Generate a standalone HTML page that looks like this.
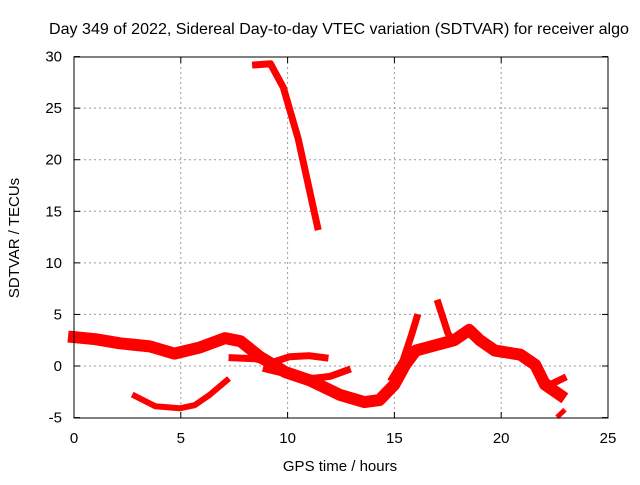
<!DOCTYPE html>
<html><head><meta charset="utf-8"><style>
body{margin:0;background:#fff;}
svg text{font-family:"Liberation Sans",sans-serif;font-size:15px;fill:#000;}
</style></head><body>
<svg id="c" width="640" height="480">
<text x="339" y="34" text-anchor="middle" textLength="580" lengthAdjust="spacingAndGlyphs" style="font-size:16px">Day 349 of 2022, Sidereal Day-to-day VTEC variation (SDTVAR) for receiver algo</text>
<text x="340" y="471" text-anchor="middle">GPS time / hours</text>
<text transform="translate(19,238) rotate(-90)" text-anchor="middle">SDTVAR / TECUs</text>
<g id="grid"></g><g id="marks"></g><g id="axes"></g>
</svg>
<script>
const xTicks=[0,5,10,15,20,25];
const yTicks=[-5,0,5,10,15,20,25,30];
const bandMainH=[0,1,2.15,3.55,4.7,5.9,7.07,7.8,8.7,9.9,11.05,12.45,13.6,14.3,15,15.5,16,16.9,17.8,18.5,19,19.7,20.9,21.6,22.05,22.75];
const bandMainV=[2.8,2.6,2.2,1.9,1.2,1.8,2.7,2.4,0.9,-0.6,-1.4,-2.8,-3.5,-3.3,-1.8,0.1,1.5,2.0,2.5,3.5,2.5,1.5,1.1,0.1,-1.8,-2.8];
const steepH=[8.5,9.2,9.8,10.5,11.4];
const steepV=[29.2,29.3,27,22,13.5];
const arcH=[2.85,3.8,4.95,5.65,6.35,7.15];
const arcV=[-2.9,-3.9,-4.1,-3.8,-2.8,-1.4];
const midH=[7.4,8.5,9.2,10.1,11.0,11.75];
const midV=[0.8,0.7,0.3,0.9,1.0,0.8];
const lowH=[9.0,10.0,11.2,12.0,12.8];
const lowV=[-0.3,-0.8,-1.2,-1.0,-0.4];
const spike1H=[14.9,15.4,15.8,16.05];
const spike1V=[-1.2,0.5,3.0,4.7];
const spike2H=[17.05,17.3,17.5,17.7];
const spike2V=[6.1,4.5,3.2,2.5];
const tailH=[21.3,21.8,22.3,22.9];
const tailV=[0.6,-1.0,-1.8,-1.2];
const dotH=[22.7,22.9];
const dotV=[-4.8,-4.4];
const X=h=>74+h*(534/25), Y=v=>366-v*(361/35);
const NS='http://www.w3.org/2000/svg';
const grid=document.getElementById('grid'),axes=document.getElementById('axes'),marks=document.getElementById('marks');
function mk(t,a,p){const e=document.createElementNS(NS,t);for(const k in a)e.setAttribute(k,a[k]);p.appendChild(e);return e;}
xTicks.forEach(t=>{
 if(t>0&&t<25){const g=mk('line',{x1:X(t),x2:X(t),y1:57,y2:418,stroke:'#999','stroke-dasharray':'2,3'},grid);
 
 }
 const l=mk('text',{x:X(t),y:443,'text-anchor':'middle'},axes);l.textContent=t;
 
 
 mk('line',{x1:X(t),x2:X(t),y1:418,y2:412,stroke:'#000'},axes);
 mk('line',{x1:X(t),x2:X(t),y1:57,y2:63,stroke:'#000'},axes);
});
yTicks.forEach(t=>{
 if(t>-5&&t<30){const g=mk('line',{x1:74,x2:608,y1:Y(t),y2:Y(t),stroke:'#999','stroke-dasharray':'2,3'},grid);
 
 }
 const l=mk('text',{x:62,y:Y(t)+5,'text-anchor':'end'},axes);l.textContent=t;
 
 
 mk('line',{x1:74,x2:80,y1:Y(t),y2:Y(t),stroke:'#000'},axes);
 mk('line',{x1:608,x2:602,y1:Y(t),y2:Y(t),stroke:'#000'},axes);
});
const fr=mk('rect',{x:74,y:57,width:534,height:361,fill:'none',stroke:'#000'},axes);


function series(H,V,w,name){
 const pts=H.map((h,i)=>X(h)+','+Y(V[i])).join(' ');
 const p=mk('polyline',{points:pts,fill:'none',stroke:'#f00','stroke-width':w,'stroke-linejoin':'round','stroke-linecap':'square'},marks);
 
 
}
series(bandMainH,bandMainV,12,'main-band-series');
series(steepH,steepV,7,'steep-series');
series(arcH,arcV,6,'arc-series');
series(midH,midV,7,'mid-series');
series(lowH,lowV,7,'low-series');
series(spike1H,spike1V,7,'spike1-series');
series(spike2H,spike2V,7,'spike2-series');
series(tailH,tailV,7,'tail-series');
series(dotH,dotV,5,'end-dot-series');
</script>
</body></html>
